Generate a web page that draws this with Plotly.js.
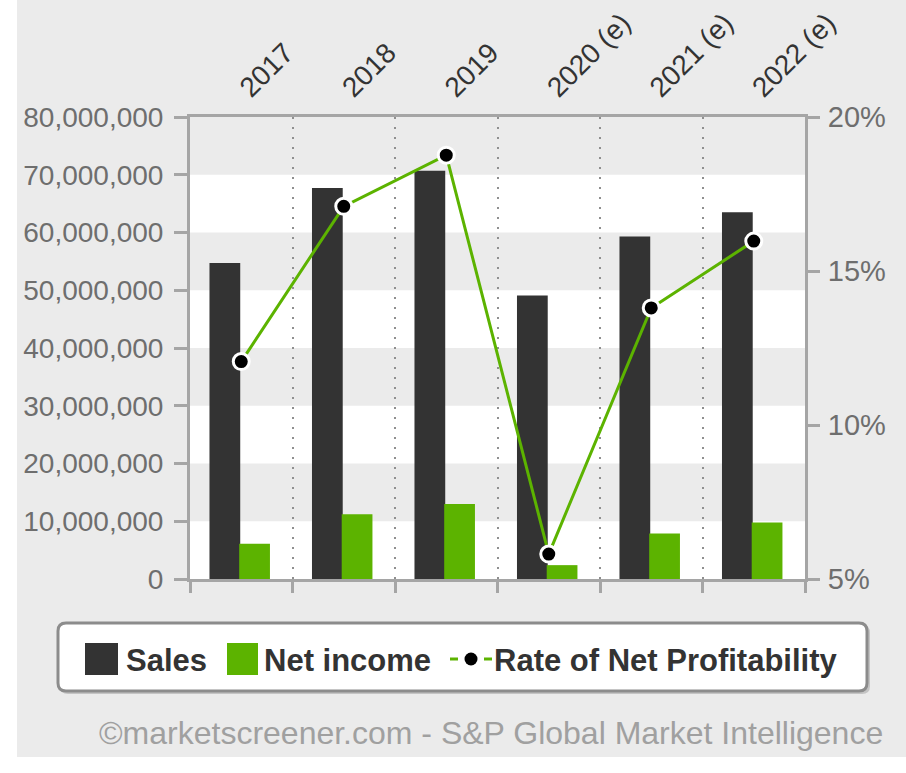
<!DOCTYPE html>
<html>
<head>
<meta charset="utf-8">
<script src="https://cdn.plot.ly/plotly-3.0.1.min.js"></script>
<style>html,body{margin:0;padding:0;background:#fff;}#chart{width:906px;height:773px;}</style>
</head>
<body>
<div id="chart"></div>
<script>
// ---- data ----
const categories = ['2017', '2018', '2019', '2020 (e)', '2021 (e)', '2022 (e)'];
const sales = [54.7e6, 67.7e6, 70.7e6, 49.1e6, 59.3e6, 63.5e6];
const netIncome = [6.1e6, 11.2e6, 13.0e6, 2.4e6, 7.9e6, 9.8e6];
const rateOfNetProfitability = [12.06, 17.1, 18.76, 5.81, 13.8, 15.97];
const leftTicks = [0, 10e6, 20e6, 30e6, 40e6, 50e6, 60e6, 70e6, 80e6];
const rightTicks = [5, 10, 15, 20];
const rightTickLabels = ['5%', '10%', '15%', '20%'];
const seriesNames = ['Sales', 'Net income', 'Rate of Net Profitability'];
const footerText = '©marketscreener.com - S&P Global Market Intelligence';

// ---- style ----
const FONT = 'Liberation Sans, Arial, sans-serif';
const DARK = '#333333';
const GREEN = '#5cb300';
const AXIS = '#a5a5a5';
const BG = '#ebebeb';

// plot area in pixels
const L = 190, R = 805, T = 117, B = 579, WIDTH = 906, HEIGHT = 773;
const PW = R - L, PH = B - T;
const px = x => (x - L) / PW;
const py = y => (B - y) / PH;

const traces = [
  {type: 'bar', name: seriesNames[0], x: categories, y: sales,
   marker: {color: DARK}, width: 0.30, offset: -0.31, showlegend: false},
  {type: 'bar', name: seriesNames[1], x: categories, y: netIncome,
   marker: {color: GREEN}, width: 0.30, offset: -0.02, showlegend: false},
  {type: 'scatter', mode: 'lines+markers', name: seriesNames[2], x: categories, y: rateOfNetProfitability,
   yaxis: 'y2', line: {color: GREEN, width: 3},
   marker: {color: '#000', size: 16, line: {color: '#fff', width: 3}}, showlegend: false},
  {type: 'scatter', x: [], y: [], xaxis: 'x2', yaxis: 'y', showlegend: false, hoverinfo: 'skip'}
];

const shapes = [];
// white outer strips (page outside grey panel)
shapes.push({type: 'rect', xref: 'paper', yref: 'paper', layer: 'below',
  x0: px(0), x1: px(17), y0: py(0), y1: py(HEIGHT), fillcolor: '#fff', line: {width: 0}});
shapes.push({type: 'rect', xref: 'paper', yref: 'paper', layer: 'below',
  x0: px(0), x1: px(WIDTH), y0: py(757), y1: py(HEIGHT), fillcolor: '#fff', line: {width: 0}});
// alternating bands
for (let i = 0; i < leftTicks.length - 1; i++) {
  if (i % 2 === 1) {
    shapes.push({type: 'rect', xref: 'paper', yref: 'y', layer: 'below',
      x0: 0, x1: 1, y0: leftTicks[i], y1: leftTicks[i + 1], fillcolor: BG, line: {width: 0}});
  }
}
// legend box (rounded)
function roundRect(x0, y0, x1, y1, r) {
  const X = v => px(v), Y = v => py(v);
  return `M${X(x0 + r)},${Y(y0)} L${X(x1 - r)},${Y(y0)} Q${X(x1)},${Y(y0)} ${X(x1)},${Y(y0 + r)} ` +
         `L${X(x1)},${Y(y1 - r)} Q${X(x1)},${Y(y1)} ${X(x1 - r)},${Y(y1)} L${X(x0 + r)},${Y(y1)} ` +
         `Q${X(x0)},${Y(y1)} ${X(x0)},${Y(y1 - r)} L${X(x0)},${Y(y0 + r)} Q${X(x0)},${Y(y0)} ${X(x0 + r)},${Y(y0)} Z`;
}
shapes.push({type: 'path', xref: 'paper', yref: 'paper', layer: 'above',
  path: roundRect(60, 625, 870, 694, 8), fillcolor: '#c4c4c4', line: {width: 0}});
shapes.push({type: 'path', xref: 'paper', yref: 'paper', layer: 'above',
  path: roundRect(58, 623, 867, 691, 8), fillcolor: '#ffffff', line: {color: '#8c8c8c', width: 3}});
// legend swatches
shapes.push({type: 'rect', xref: 'paper', yref: 'paper', layer: 'above',
  x0: px(85), x1: px(118), y0: py(643), y1: py(675), fillcolor: DARK, line: {width: 0}});
shapes.push({type: 'rect', xref: 'paper', yref: 'paper', layer: 'above',
  x0: px(227), x1: px(258), y0: py(643), y1: py(675), fillcolor: GREEN, line: {width: 0}});
shapes.push({type: 'line', xref: 'paper', yref: 'paper', layer: 'above',
  x0: px(450), x1: px(458), y0: py(659), y1: py(659), line: {color: GREEN, width: 3}});
shapes.push({type: 'line', xref: 'paper', yref: 'paper', layer: 'above',
  x0: px(484), x1: px(492), y0: py(659), y1: py(659), line: {color: GREEN, width: 3}});
shapes.push({type: 'circle', xref: 'paper', yref: 'paper', layer: 'above',
  x0: px(464.5), x1: px(477.5), y0: py(652.5), y1: py(665.5), fillcolor: '#000', line: {width: 0}});

const legendFont = {family: FONT, size: 31, color: DARK, weight: 'bold'};
const annotations = [
  {xref: 'paper', yref: 'paper', x: px(124), y: py(660), xanchor: 'left', yanchor: 'middle',
   text: '<b>' + seriesNames[0] + '</b>', showarrow: false, font: legendFont},
  {xref: 'paper', yref: 'paper', x: px(262), y: py(660), xanchor: 'left', yanchor: 'middle',
   text: '<b>' + seriesNames[1] + '</b>', showarrow: false, font: legendFont},
  {xref: 'paper', yref: 'paper', x: px(492), y: py(660), xanchor: 'left', yanchor: 'middle',
   text: '<b>' + seriesNames[2] + '</b>', showarrow: false, font: legendFont},
  {xref: 'paper', yref: 'paper', x: px(491), y: py(733), xanchor: 'center', yanchor: 'middle',
   text: footerText, showarrow: false, font: {family: FONT, size: 32, color: '#a0a0a0'}}
];

const boundaries = categories.map((_, i) => i - 0.5).concat([categories.length - 0.5]);

const layout = {
  width: WIDTH, height: HEIGHT,
  margin: {l: L, r: WIDTH - R, t: T, b: HEIGHT - B, pad: 0},
  paper_bgcolor: BG, plot_bgcolor: '#ffffff',
  barmode: 'overlay', hovermode: false, showlegend: false,
  font: {family: FONT},
  xaxis: {
    type: 'category', side: 'top', categoryarray: categories,
    range: [-0.5, categories.length - 0.5],
    tickson: 'boundaries', ticks: '', tickangle: -45, ticklabelstandoff: 0,
    tickfont: {family: FONT, size: 28, color: '#333333'},
    showline: true, linecolor: AXIS, linewidth: 3,
    showgrid: true, gridcolor: '#8f8f8f', gridwidth: 2, griddash: '2px,8px', zeroline: false
  },
  xaxis2: {
    overlaying: 'x', anchor: 'y', side: 'bottom', range: [-0.5, categories.length - 0.5],
    tickmode: 'array', tickvals: boundaries, ticks: 'outside', ticklen: 11, tickwidth: 3, tickcolor: AXIS,
    showticklabels: false, showline: true, linecolor: AXIS, linewidth: 3, showgrid: false, zeroline: false
  },
  yaxis: {
    range: [0, 80e6], tickmode: 'array', tickvals: leftTicks, tickformat: ',',
    ticks: 'outside', ticklen: 13, tickwidth: 3, tickcolor: AXIS, ticklabelstandoff: 5,
    tickfont: {family: FONT, size: 28, color: '#6e6e6e'},
    showline: true, linecolor: AXIS, linewidth: 3, showgrid: false, zeroline: false
  },
  yaxis2: {
    overlaying: 'y', side: 'right', range: [5, 20], tickmode: 'array',
    tickvals: rightTicks, ticktext: rightTickLabels,
    ticks: 'outside', ticklen: 12, tickwidth: 3, tickcolor: AXIS, ticklabelstandoff: 2,
    tickfont: {family: FONT, size: 29, color: '#6e6e6e'},
    showline: true, linecolor: AXIS, linewidth: 3, showgrid: false, zeroline: false
  },
  shapes: shapes,
  annotations: annotations
};

Plotly.newPlot('chart', traces, layout, {displayModeBar: false, staticPlot: true});
</script>
</body>
</html>
